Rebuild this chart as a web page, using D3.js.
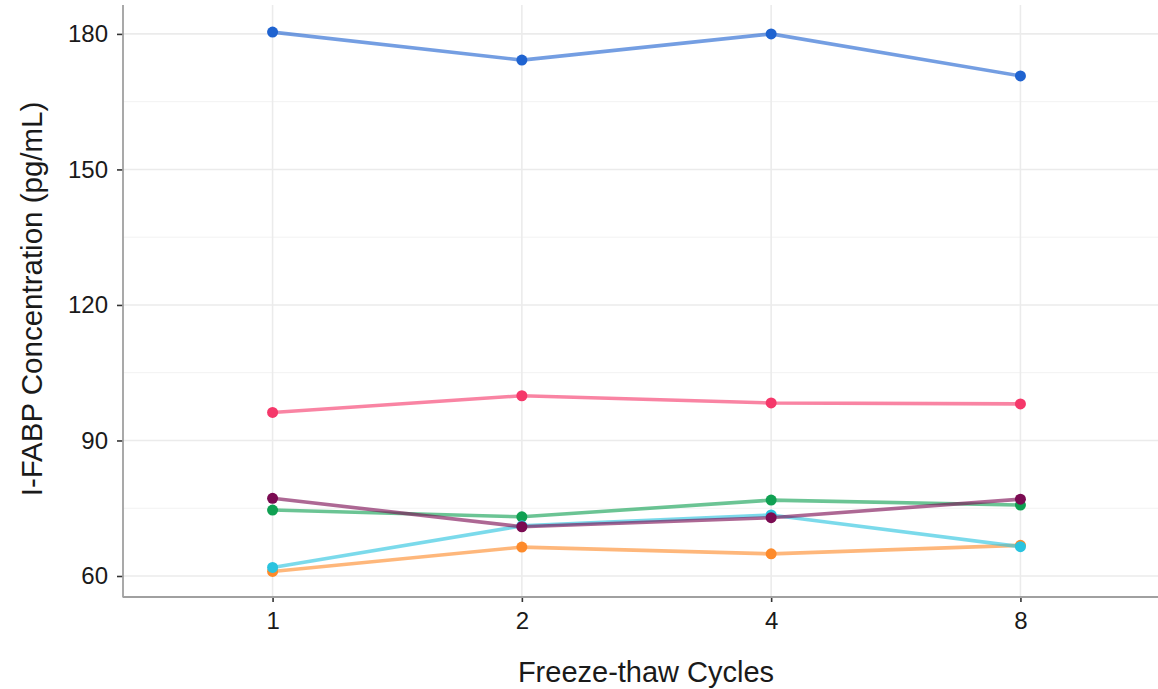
<!DOCTYPE html>
<html>
<head>
<meta charset="utf-8">
<script src="https://cdn.jsdelivr.net/npm/d3@7"></script>
<style>
  body { margin: 0; background: #fff; }
  text { font-family: "Liberation Sans", Arial, sans-serif; }
</style>
</head>
<body>
<script>
// data
var cycles = ["1", "2", "4", "8"];
var s1 = [180.4, 174.2, 180.0, 170.7];
var s2 = [96.2, 99.9, 98.3, 98.1];
var s3 = [77.2, 70.9, 72.9, 77.0];
var s4 = [74.6, 73.1, 76.8, 75.7];
var s5 = [61.9, 71.1, 73.5, 66.5];
var s6 = [61.0, 66.4, 64.9, 66.8];
var yTicks = [60, 90, 120, 150, 180];
var yMinor = [75, 105, 135, 165];
var colors = ["#1f63d0", "#f5386a", "#7b0b52", "#10a052", "#2ac3df", "#fd8a2a"];

// drawing order matches overlaps in the picture
var allSeries = [s1, s2, s4, s6, s5, s3];
var allColors = [colors[0], colors[1], colors[3], colors[5], colors[4], colors[2]];

var margin = { top: 5, left: 123, bottom: 92 },
    W = 1158, H = 689,
    plotRight = 1170;

var svg = d3.select("body").append("svg")
    .attr("width", W)
    .attr("height", H);

var x = d3.scalePoint()
    .domain(cycles)
    .range([margin.left, plotRight])
    .padding(0.6);

var y = d3.scaleLinear()
    .domain([55.35, 186.4])
    .range([H - margin.bottom, margin.top]);

var grid = svg.append("g");
// minor horizontal grid
grid.selectAll(".minor").data(yMinor).enter().append("line")
    .attr("x1", margin.left).attr("x2", plotRight)
    .attr("y1", function(d) { return y(d); })
    .attr("y2", function(d) { return y(d); })
    .attr("stroke", "#f2f2f2").attr("stroke-width", 1);
// major horizontal grid
grid.selectAll(".major").data(yTicks).enter().append("line")
    .attr("x1", margin.left).attr("x2", plotRight)
    .attr("y1", function(d) { return y(d); })
    .attr("y2", function(d) { return y(d); })
    .attr("stroke", "#ebebeb").attr("stroke-width", 1.6);
// vertical grid
grid.selectAll(".vx").data(cycles).enter().append("line")
    .attr("x1", function(d) { return x(d); })
    .attr("x2", function(d) { return x(d); })
    .attr("y1", margin.top).attr("y2", H - margin.bottom)
    .attr("stroke", "#ebebeb").attr("stroke-width", 1.6);

// axes
var yAxis = svg.append("g")
    .attr("transform", "translate(" + margin.left + ",0)")
    .call(d3.axisLeft(y).tickValues(yTicks).tickSize(6).tickPadding(9));
var xAxis = svg.append("g")
    .attr("transform", "translate(0," + (H - margin.bottom) + ")")
    .call(d3.axisBottom(x).tickSize(5).tickPadding(10));

[yAxis, xAxis].forEach(function(a) {
  a.select(".domain").remove();
  a.selectAll(".tick line").attr("stroke", "#333").attr("stroke-width", 1.6);
  a.selectAll(".tick text").attr("fill", "#1a1a1a").style("font-size", "24px");
});

svg.append("line")
    .attr("x1", margin.left).attr("x2", margin.left)
    .attr("y1", margin.top).attr("y2", H - margin.bottom + 0.5)
    .attr("stroke", "#a0a0a0").attr("stroke-width", 1.8);
svg.append("line")
    .attr("x1", margin.left).attr("x2", plotRight)
    .attr("y1", H - margin.bottom).attr("y2", H - margin.bottom)
    .attr("stroke", "#a0a0a0").attr("stroke-width", 1.8);

// lines + points
var line = d3.line()
    .x(function(d, i) { return x(cycles[i]); })
    .y(function(d) { return y(d); });

allSeries.forEach(function(vals, k) {
  svg.append("path")
    .datum(vals)
    .attr("d", line)
    .attr("fill", "none")
    .attr("stroke", allColors[k])
    .attr("stroke-opacity", 0.62)
    .attr("stroke-width", 3.6);
  svg.selectAll(".pt" + k).data(vals).enter().append("circle")
    .attr("cx", function(d, i) { return x(cycles[i]); })
    .attr("cy", function(d) { return y(d); })
    .attr("r", 5.5)
    .attr("fill", allColors[k]);
});

// titles
svg.append("text")
    .attr("x", 646)
    .attr("y", 682)
    .attr("text-anchor", "middle")
    .style("font-size", "29px")
    .attr("fill", "#1a1a1a")
    .text("Freeze-thaw Cycles");

svg.append("text")
    .attr("transform", "translate(42,299) rotate(-90)")
    .attr("text-anchor", "middle")
    .style("font-size", "29.5px")
    .attr("fill", "#1a1a1a")
    .text("I-FABP Concentration (pg/mL)");
</script>
</body>
</html>
